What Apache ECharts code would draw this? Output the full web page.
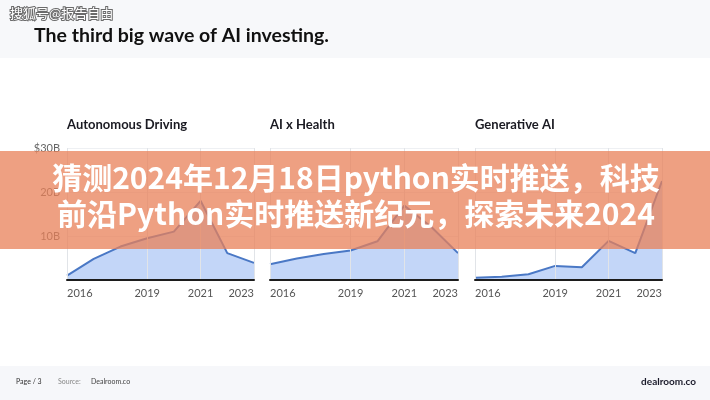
<!DOCTYPE html>
<html><head><meta charset="utf-8">
<script src="https://cdn.jsdelivr.net/npm/echarts@6/dist/echarts.min.js"></script>
<style>html,body{margin:0;padding:0;background:#fff}#c{width:710px;height:400px}</style>
</head><body><div id="c"></div>
<script>
const years = ['2016','2017','2018','2019','2020','2021','2022','2023'];
const shownYearIdx = [0,3,5,7];
const autonomousDriving = [1.0, 4.8, 7.6, 9.5, 11.0, 18.0, 6.1, 3.9];
const aiHealth = [3.6, 4.9, 5.9, 6.7, 8.8, 16.9, 12.1, 6.1];
const generativeAI = [0.5, 0.75, 1.3, 3.2, 2.9, 8.9, 6.1, 22.5];
const panelTitles = ['Autonomous Driving', 'AI x Health', 'Generative AI'];
const yMax = 30, yStep = 10;
const yTickLabels = {10: '10B', 20: '20B', 30: '$30B'};
const headline = 'The third big wave of AI investing.';
const bannerLines = ['猜测2024年12月18日python实时推送，科技', '前沿Python实时推送新纪元，探索未来2024'];
const watermark = '搜狐号@报告自由';

const seriesData = [autonomousDriving, aiHealth, generativeAI];
const grids = [
  {left: 67, top: 148, width: 187, height: 132},
  {left: 270, top: 148, width: 188, height: 132},
  {left: 475, top: 148, width: 187, height: 132}
];
const font = 'Lato, "Open Sans", sans-serif';
const chart = echarts.init(document.getElementById('c'), null, {renderer: 'canvas'});
const option = {
  backgroundColor: '#ffffff',
  animation: false,
  grid: grids,
  xAxis: grids.map((g, i) => ({
    type: 'category', gridIndex: i, data: years, boundaryGap: false, z: 5,
    axisLine: {show: true, lineStyle: {color: '#1c1c1c', width: 2}},
    axisTick: {show: false},
    axisLabel: {interval: (idx) => shownYearIdx.includes(idx), color: '#555', fontSize: 11,
      fontFamily: font, margin: 8, alignMinLabel: 'left', alignMaxLabel: 'right'},
    splitLine: {show: true, interval: (idx) => shownYearIdx.includes(idx), lineStyle: {color: '#e1e4e8', width: 1}}
  })),
  yAxis: grids.map((g, i) => ({
    type: 'value', gridIndex: i, min: 0, max: yMax, interval: yStep,
    axisLine: {show: false}, axisTick: {show: false},
    axisLabel: {show: i === 0, color: '#666', fontSize: 11, fontFamily: font, margin: 7,
      formatter: (v) => yTickLabels[v] || ''},
    splitLine: {show: true, lineStyle: {color: '#eef0f3', width: 1}}
  })),
  series: seriesData.map((d, i) => ({
    type: 'line', xAxisIndex: i, yAxisIndex: i, data: d, symbol: 'none', z: 2,
    lineStyle: {color: '#4a78c5', width: 2},
    areaStyle: {color: '#c3d6f8', opacity: 1}
  })),
  graphic: [
    {type: 'rect', left: 0, top: 0, shape: {width: 710, height: 58}, style: {fill: '#f7f8fa'}, z: -10},
    {type: 'rect', left: 0, top: 366, shape: {width: 710, height: 34}, style: {fill: '#f6f7fa'}, z: -10},
    {type: 'text', x: 10, y: 13, style: {text: watermark, fill: '#ffffff', stroke: '#6b6b6b', lineWidth: 2,
      font: '13px "Noto Sans CJK SC"', textVerticalAlign: 'middle'}, z: 100},
    {type: 'text', x: 34, y: 36, style: {text: headline, fill: '#111', font: 'bold 19.5px ' + font, textVerticalAlign: 'middle'}},
    ...panelTitles.map((t, i) => ({type: 'text', x: grids[i].left, y: 125,
      style: {text: t, fill: '#1a1a22', font: 'bold 13px ' + font, textVerticalAlign: 'middle'}})),
    {type: 'text', x: 16, y: 382, style: {text: 'Page / 3', fill: '#333', font: '7px ' + font, textVerticalAlign: 'middle'}},
    {type: 'text', x: 58, y: 382, style: {text: 'Source:', fill: '#888', font: '7px ' + font, textVerticalAlign: 'middle'}},
    {type: 'text', x: 91, y: 382, style: {text: 'Dealroom.co', fill: '#444', font: '7px ' + font, textVerticalAlign: 'middle'}},
    {type: 'text', x: 696, y: 382, style: {text: 'dealroom.co', fill: '#1a1a2a', font: 'bold 10px ' + font, textAlign: 'right', textVerticalAlign: 'middle'}},
    {type: 'rect', left: 0, top: 151, shape: {width: 710, height: 98}, style: {fill: 'rgba(232,128,88,0.75)'}, z: 50},
    ...bannerLines.map((t, i) => ({type: 'text', x: 356, y: 178 + i * 36,
      style: {text: t, fill: '#ffffff', font: 'bold 30px "Noto Sans CJK SC"', textAlign: 'center', textVerticalAlign: 'middle'}, z: 60}))
  ]
};
chart.setOption(option);
</script></body></html>
